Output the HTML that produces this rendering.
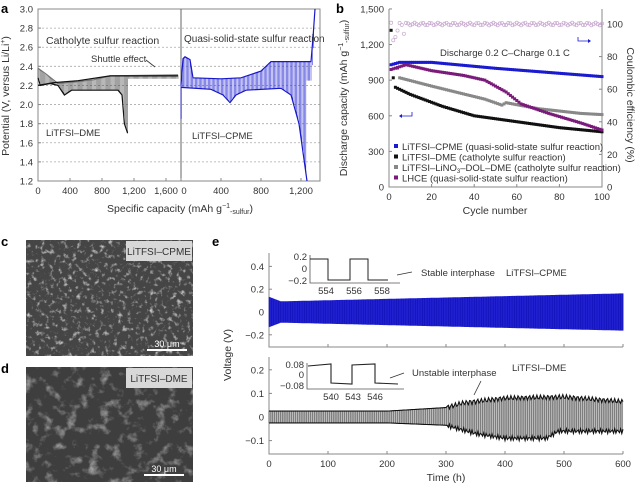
<!DOCTYPE html>
<html><head><meta charset="utf-8">
<style>
body{margin:0;background:#fff;}
svg{display:block;font-family:"Liberation Sans",sans-serif;}
text{fill:#333}
.t{font-size:9.5px}
.tt{font-size:10.5px}
.pl{font-size:13px;font-weight:bold;fill:#000}
</style></head><body>
<svg id="s" width="640" height="486" viewBox="0 0 640 486" xmlns="http://www.w3.org/2000/svg">
<defs>
<filter id="sem1" x="0" y="0" width="100%" height="100%">
<feTurbulence type="fractalNoise" baseFrequency="0.22" numOctaves="3" seed="3"/>
<feColorMatrix type="matrix" values="0 0 0 0 0.8  0 0 0 0 0.8  0 0 0 0 0.8  2.4 0 0 0 -1.3"/>
</filter>
<filter id="sem2" x="0" y="0" width="100%" height="100%">
<feTurbulence type="fractalNoise" baseFrequency="0.09" numOctaves="4" seed="7"/>
<feColorMatrix type="matrix" values="0 0 0 0 0.7  0 0 0 0 0.7  0 0 0 0 0.7  1.8 0 0 0 -0.95"/>
</filter>
</defs>
<g id="g"></g>
<text class="pl" x="1" y="13">a</text>
<text class="pl" x="336" y="13">b</text>
<text class="pl" x="1" y="246">c</text>
<text class="pl" x="1" y="373">d</text>
<text class="pl" x="212" y="246">e</text>

<rect x="26" y="240" width="167" height="116" fill="#454545"/>
<rect x="26" y="240" width="167" height="116" filter="url(#sem1)"/>
<rect x="126" y="241" width="66" height="20" fill="#d8d8d8"/>
<text x="159" y="255" font-size="10" text-anchor="middle" style="fill:#333">LiTFSI–CPME</text>
<line x1="147" y1="350" x2="187" y2="350" stroke="#fff" stroke-width="2"/>
<text x="167" y="347" font-size="9" text-anchor="middle" style="fill:#fff">30 μm</text>
<rect x="26" y="367" width="167" height="115" fill="#3e3e3e"/>
<rect x="26" y="367" width="167" height="115" filter="url(#sem2)"/>
<rect x="126" y="368" width="66" height="20" fill="#d8d8d8"/>
<text x="159" y="382" font-size="10" text-anchor="middle" style="fill:#333">LiTFSI–DME</text>
<line x1="144" y1="475" x2="184" y2="475" stroke="#fff" stroke-width="2"/>
<text x="164" y="472" font-size="9" text-anchor="middle" style="fill:#fff">30 μm</text>
</svg>
<script>
const g=document.getElementById('g');let h='';
function L(x1,y1,x2,y2,c,w,extra){h+=`<line x1="${x1}" y1="${y1}" x2="${x2}" y2="${y2}" stroke="${c}" stroke-width="${w||1}" ${extra||''}/>`;}
function T(x,y,s,cls,anchor,extra){h+=`<text x="${x}" y="${y}" class="${cls||'t'}" text-anchor="${anchor||'middle'}" ${extra||''}>${s}</text>`;}
function P(pts,c,w,fill){h+=`<polyline points="${pts.map(p=>p[0].toFixed(1)+','+p[1].toFixed(1)).join(' ')}" fill="${fill||'none'}" stroke="${c}" stroke-width="${w||1}"/>`;}
function interp(arr,x){if(x<=arr[0][0])return arr[0][1];for(let i=1;i<arr.length;i++){if(x<=arr[i][0]){const a=arr[i-1],b=arr[i];return a[1]+(b[1]-a[1])*(x-a[0])/(b[0]-a[0]);}}return arr[arr.length-1][1];}

const ax0=38,ax1=320,ay0=9,ay1=181,amid=181;
const Ya=v=>ay0+(3.0-v)*95.56;
for(let v=1.4;v<2.95;v+=0.2){L(ax0,Ya(v),ax1,Ya(v),'#aaa',0.8,'stroke-dasharray="2,2"');}
h+=`<rect x="${ax0}" y="${ay0}" width="${ax1-ax0}" height="${ay1-ay0}" fill="none" stroke="#888" stroke-width="1"/>`;
L(amid,ay0,amid,ay1,'#666',1);
for(let i=0;i<10;i++){const v=1.2+i*0.2;T(33,Ya(v)+3.5,v.toFixed(1),'t','end');L(ax0,Ya(v),ax0+3,Ya(v),'#888',1);}
const XL=c=>ax0+c*0.08, XR=c=>amid+c*0.1;
[0,400,800,1200,1600].forEach((c,i)=>{T(XL(c),194,['0','400','800','1,200','1,600'][i]);L(XL(c),ay1,XL(c),ay1-3,'#888');});
[0,400,800,1200].forEach((c,i)=>{T(XR(c)+(i==0?3:0),194,['0','400','800','1,200'][i]);L(XR(c),ay1,XR(c),ay1-3,'#888');});
T(180,212,'Specific capacity (mAh g<tspan font-size="7" dy="-4">−1</tspan><tspan font-size="7" dy="6">-sulfur</tspan><tspan dy="-2">)</tspan>','tt');
T(9,96,'Potential (V, versus Li/Li<tspan font-size="7" dy="-4">+</tspan><tspan dy="4">)</tspan>','tt','middle','transform="rotate(-90 9 96)"');
const bu=[[0,2.38],[100,2.32],[250,2.22],[500,2.24],[700,2.26],[900,2.3],[1750,2.31]];
const bl=[[0,2.28],[30,2.2],[150,2.22],[250,2.2],[330,2.1],[420,2.15],[1000,2.15],[1050,2.1],[1080,1.8],[1120,1.7]];
const bu2=[[0,2.2],[200,2.23],[500,2.25],[900,2.3],[1750,2.3]];
for(let c=0;c<=1750;c+=14){const u=interp(bu,c);let l=c<=1120?interp(bl,c):interp(bu2,c)-0.03;L(XL(c),Ya(u),XL(c),Ya(l),'#444',0.5);}
P(bu.map(p=>[XL(p[0]),Ya(p[1])]),'#777',1.2);
P(bu2.map(p=>[XL(p[0]),Ya(p[1])]),'#111',1.2);
P(bl.map(p=>[XL(p[0]),Ya(p[1])]),'#111',1.2);
const ru=[[0,2.2],[20,2.48],[40,2.5],[90,2.47],[120,2.28],[400,2.27],[600,2.28],[800,2.35],[900,2.45],[1300,2.45],[1320,2.7],[1340,3.0]];
const rl=[[0,2.18],[300,2.16],[420,2.1],[490,2.02],[550,2.1],[650,2.15],[1000,2.17],[1100,2.1],[1180,1.8],[1220,1.5],[1260,1.2]];
for(let c=0;c<=1330;c+=13){const u=interp(ru,c);const l=c<1260?interp(rl,c):interp(ru,c)-0.2;L(XR(c),Ya(u),XR(c),Ya(l),'#3a3ad8',0.6);}
L(XR(1),Ya(2.2),XR(1),Ya(1.85),'#2a2ad0',1);
P(ru.map(p=>[XR(p[0]),Ya(p[1])]),'#1818c8',1.2);
P(rl.map(p=>[XR(p[0]),Ya(p[1])]),'#1818c8',1.2);
T(46,44,'Catholyte sulfur reaction','tt','start');
T(91,62,'Shuttle effect','t','start');
L(146,60,155,67,'#333',0.8);
T(46,136,'LiTFSI–DME','t','start');
T(184,42,'Quasi-solid-state sulfur reaction','t','start','style="font-size:10px"');
T(192,139,'LiTFSI–CPME','t','start');

const bx0=389,bx1=602,by0=9,by1=187;
const Xb=n=>bx0+n*2.13,Yb=c=>by1-c*0.1187,Yc=e=>by1-e*1.63;
h+=`<path d="M${bx0},${by0}V${by1}H${bx1}V${by0}" fill="none" stroke="#888"/>`;
[0,300,600,900,1200,1500].forEach(c=>{T(384,Yb(c)+3.5,c.toLocaleString('en-US'),'t','end');L(bx0,Yb(c),bx0+3,Yb(c),'#888');});
[0,20,40,60,80,100].forEach(e=>{T(607,Yc(e)+3.5,e,'t','start');L(bx1,Yc(e),bx1-3,Yc(e),'#888');});
[0,20,40,60,80,100].forEach(n=>{T(Xb(n),200,n);L(Xb(n),by1,Xb(n),by1-3,'#888');});
T(495,214,'Cycle number','tt');
T(347,98,'Discharge capacity (mAh g<tspan font-size="7" dy="-4">−1</tspan><tspan font-size="7" dy="6">-sulfur</tspan><tspan dy="-2">)</tspan>','tt','middle','transform="rotate(-90 347 98)"');
T(627,105,'Coulombic efficiency (%)','tt','middle','transform="rotate(90 627 105)"');
for(let n=1;n<=100;n++){let e=100+Math.sin(n*1.7)*0.8;if(n==2)e=90;if(n==3)e=92;if(n==4)e=96;if(n==7)e=94;h+=`<circle cx="${Xb(n)}" cy="${Yc(e)}" r="1.6" fill="none" stroke="#c8a8d0" stroke-width="0.7"/>`;}
const ser=[
 ['#888',[[4,1000],[5,920],[20,850],[45,740],[53,690],[55,710],[70,660],[90,620],[100,610]],4],
 ['#111',[[3,840],[10,780],[25,680],[40,600],[60,550],[80,500],[100,465]],3],
 ['#1a1ad0',[[1,1030],[5,1050],[20,1050],[50,1000],[100,930]],1],
 ['#7a1a7a',[[1,990],[8,1030],[20,980],[35,940],[45,900],[55,800],[62,700],[75,620],[90,540],[100,480]],1]];
ser.forEach(s=>{for(let n=s[2];n<=100;n++){const c=interp(s[1],n);h+=`<rect x="${Xb(n)-1.5}" y="${Yb(c)-1.5}" width="3" height="3" fill="${s[0]}"/>`;}});
h+=`<rect x="${Xb(1)-1.5}" y="${Yb(1320)-1.5}" width="3" height="3" fill="#111"/><rect x="${Xb(2)-1.5}" y="${Yb(920)-1.5}" width="3" height="3" fill="#111"/>`;
T(440,56,'Discharge 0.2 C–Charge 0.1 C','t','start');
h+=`<path d="M578,37v4h10" fill="none" stroke="#1a1ad0" stroke-width="0.8"/><path d="M588,39l3,2l-3,2z" fill="#1a1ad0"/>`;
h+=`<path d="M412,112v4h-10" fill="none" stroke="#1a1ad0" stroke-width="0.8"/><path d="M402,114l-3,2l3,2z" fill="#1a1ad0"/>`;
[['#1a1ad0','LiTFSI–CPME (quasi-solid-state sulfur reaction)'],['#111','LiTFSI–DME (catholyte sulfur reaction)'],['#888','LiTFSI–LiNO<tspan font-size="6" dy="2">3</tspan><tspan dy="-2">–DOL–DME (catholyte sulfur reaction)</tspan>'],['#7a1a7a','LHCE (quasi-solid-state sulfur reaction)']].forEach((l,i)=>{const y=147+i*10.5;h+=`<rect x="394" y="${y-3}" width="4" height="4" fill="${l[0]}"/>`;T(402,y+3,l[1],'t','start');});

const ex0=269,ex1=623;const Xe=t=>ex0+t*0.59;
const Y1=v=>312-v*114, Y2=v=>417-v*236;
h+=`<path d="M${ex0},253V347H${ex1}" fill="none" stroke="#888"/>`;
[0.4,0.2,0,-0.2].forEach(v=>{T(264,Y1(v)+3.5,v==0?'0':v.toFixed(1).replace('-','−'),'t','end');L(ex0,Y1(v),ex0+3,Y1(v),'#888');});
const amp1=t=>t<20?0.13-0.002*t:0.09+(t-20)*0.07/580;
let tp=[],bp=[];for(let t=0;t<=600;t+=2){tp.push([Xe(t),Y1(amp1(t))]);bp.unshift([Xe(t),Y1(-amp1(t))]);}
P(tp.concat(bp),'#2020d0',0.8,'#2020d0');
for(let t=0;t<=600;t+=4)L(Xe(t),Y1(amp1(t)),Xe(t),Y1(-amp1(t)),'#0d0db0',0.5);
[0,100,200,300,400,500,600].forEach(t=>L(Xe(t),347,Xe(t),344,'#888'));
h+=`<path d="M310,255V283H400" fill="none" stroke="#555" stroke-width="0.8"/>`;
T(307,260,'0.2','t','end');T(307,272,'0','t','end');T(307,284,'−0.2','t','end');
h+=`<polyline points="310,259 328,259 328,280 350,280 350,259 368,259 368,280 388,280" fill="none" stroke="#222" stroke-width="1"/>`;
T(326,294,'554');T(354,294,'556');T(382,294,'558');
L(397,275,412,272,'#333',0.8);T(421,276,'Stable interphase','t','start');
T(506,276,'LiTFSI–CPME','t','start');
h+=`<path d="M${ex0},357V454H${ex1}" fill="none" stroke="#888"/>`;
[0.2,0.1,0,-0.1].forEach(v=>{T(264,Y2(v)+3.5,v==0?'0':v.toFixed(1).replace('-','−'),'t','end');L(ex0,Y2(v),ex0+3,Y2(v),'#888');});
const up=[[0,0.025],[200,0.025],[300,0.04],[330,0.06],[400,0.08],[500,0.085],[600,0.065]];
const lo=[[0,-0.025],[200,-0.025],[300,-0.035],[350,-0.07],[400,-0.09],[470,-0.09],[490,-0.06],[600,-0.06]];
tp=[];bp=[];for(let t=0;t<=600;t+=2){tp.push([Xe(t),Y2(interp(up,t)+(t>300?Math.sin(t)*0.01:0))]);bp.unshift([Xe(t),Y2(interp(lo,t)+(t>300?Math.sin(t*1.3)*0.01:0))]);}
P(tp.concat(bp),'#bbb',0.1,'#bbb');
for(let t=0;t<=600;t+=3.2)L(Xe(t),Y2(interp(up,t)),Xe(t),Y2(interp(lo,t)),'#333',0.45);
P(tp,'#111',1.1);P(bp,'#111',1.1);
[0,100,200,300,400,500,600].forEach(t=>{L(Xe(t),454,Xe(t),451,'#888');T(Xe(t),467,t);});
T(446,481,'Time (h)','tt');
T(231,355,'Voltage (V)','tt','middle','transform="rotate(-90 231 355)"');
h+=`<path d="M307,363V389H404" fill="none" stroke="#555" stroke-width="0.8"/>`;
T(304,368,'0.08','t','end');T(304,378,'0','t','end');T(304,389,'−0.08','t','end');
h+=`<polyline points="308,366 331,364 331,383 352,384 352,365 375,364 375,383 398,384" fill="none" stroke="#222" stroke-width="1.1"/>`;
T(331,400,'540');T(353,400,'543');T(375,400,'546');
L(390,378,404,373,'#333',0.8);T(412,376,'Unstable interphase','t','start');
L(474,395,481,381,'#333',0.8);
T(512,371,'LiTFSI–DME','t','start');
g.innerHTML=h;
</script>
</body></html>
